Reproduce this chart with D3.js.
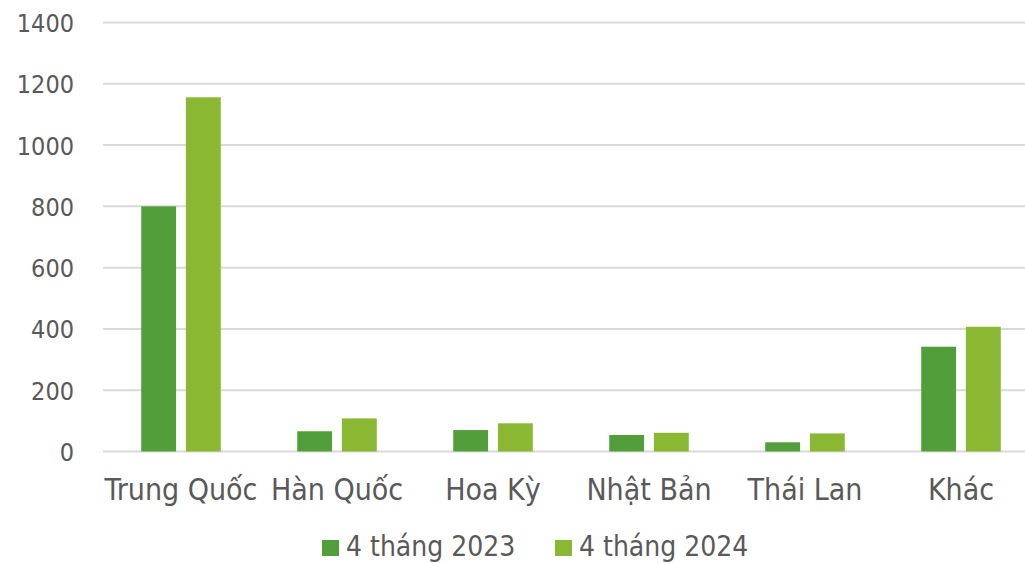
<!doctype html>
<html lang="vi">
<head>
  <meta charset="utf-8">
  <title>4 tháng 2023 / 2024</title>
  <script src="https://cdn.jsdelivr.net/npm/d3@7"></script>
  <style>
    body { margin: 0; background: #fff; }
    text { font-family: "DejaVu Sans Condensed", "DejaVu Sans", sans-serif; fill: #595959; }
  </style>
</head>
<body>
  <div id="chart"></div>
<script>
  // data
  const categories = ['Trung Quốc', 'Hàn Quốc', 'Hoa Kỳ', 'Nhật Bản', 'Thái Lan', 'Khác'];
  const seriesNames = ['4 tháng 2023', '4 tháng 2024'];
  const values2023 = [800, 66, 70, 54, 30, 342];
  const values2024 = [1156, 108, 92, 61, 59, 407];
  const yTicks = [0, 200, 400, 600, 800, 1000, 1200, 1400];
  const colors = ['#529e3a', '#8bb833'];

  const width = 1025, height = 563;
  const svg = d3.select('#chart').append('svg')
    .attr('width', width)
    .attr('height', height);

  const rows = categories.map((c, i) => ({ cat: c, vals: [values2023[i], values2024[i]] }));

  const x0 = d3.scaleBand()
    .domain(categories)
    .range([103, 1039])
    .paddingInner(0.49)
    .paddingOuter(0.245);

  const x1 = d3.scaleBand()
    .domain([0, 1])
    .range([0, x0.bandwidth()])
    .paddingInner(0.22);

  const y = d3.scaleLinear()
    .domain([0, 1400])
    .range([451.5, 22.5]);

  // grid
  svg.append('g')
    .selectAll('line')
    .data(yTicks)
    .join('line')
    .attr('x1', 103)
    .attr('x2', width)
    .attr('y1', d => y(d))
    .attr('y2', d => y(d))
    .attr('stroke', '#d9d9d9')
    .attr('stroke-width', 2);

  // y labels
  const yAxis = svg.append('g')
    .attr('transform', 'translate(74,0)')
    .call(d3.axisLeft(y).tickValues(yTicks).tickFormat(d3.format('d')).tickSize(0).tickPadding(0));
  yAxis.select('.domain').remove();
  yAxis.selectAll('text')
    .attr('font-size', 25)
    .attr('dy', '0.36em')
    .style('fill', '#595959')
    .style('font-family', null);

  // bars
  svg.append('g')
    .selectAll('g')
    .data(rows)
    .join('g')
    .attr('transform', d => `translate(${x0(d.cat)},0)`)
    .selectAll('rect')
    .data(d => d.vals.map((v, k) => ({ k, v })))
    .join('rect')
    .attr('x', d => x1(d.k))
    .attr('width', x1.bandwidth())
    .attr('y', d => y(d.v))
    .attr('height', d => y(0) - y(d.v))
    .attr('fill', d => colors[d.k]);

  // x labels
  const xAxis = svg.append('g')
    .attr('transform', `translate(0,${y(0)})`)
    .call(d3.axisBottom(x0).tickSize(0).tickPadding(27));
  xAxis.select('.domain').remove();
  xAxis.selectAll('text')
    .attr('font-size', 30)
    .style('fill', '#595959')
    .style('font-family', null);

  // legend
  const legendX = [322, 555];
  const legend = svg.append('g')
    .selectAll('g')
    .data(seriesNames)
    .join('g')
    .attr('transform', (d, i) => `translate(${legendX[i]},540)`);
  legend.append('rect')
    .attr('width', 17)
    .attr('height', 16)
    .attr('fill', (d, i) => colors[i]);
  legend.append('text')
    .attr('x', 24)
    .attr('y', 16)
    .attr('font-size', 28)
    .text(d => d);
</script>
</body>
</html>
